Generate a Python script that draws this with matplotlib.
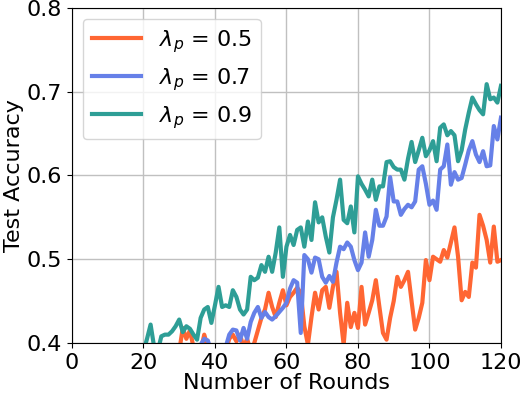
import matplotlib
matplotlib.use("Agg")
import matplotlib.pyplot as plt
import numpy as np

rounds = list(range(1, 121))

acc_05 = [0.30, 0.31, 0.30, 0.32, 0.31, 0.33, 0.32, 0.33, 0.34, 0.33,
          0.34, 0.35, 0.34, 0.35, 0.36, 0.35, 0.36, 0.37, 0.36, 0.37,
          0.36, 0.37, 0.38, 0.37, 0.38, 0.37, 0.38, 0.39, 0.38, 0.39,
          0.418, 0.405, 0.415, 0.395, 0.38, 0.39, 0.41, 0.395, 0.385, 0.38,
          0.375, 0.385, 0.39, 0.405, 0.41, 0.402, 0.41, 0.395, 0.405, 0.39,
          0.40, 0.415, 0.43, 0.44, 0.46, 0.443, 0.431, 0.448, 0.463, 0.445,
          0.455, 0.46, 0.466, 0.46, 0.42, 0.398, 0.431, 0.46, 0.44, 0.463,
          0.467, 0.442, 0.467, 0.485, 0.436, 0.398, 0.448, 0.419, 0.436, 0.418,
          0.467, 0.422, 0.436, 0.451, 0.475, 0.443, 0.412, 0.404, 0.43, 0.45,
          0.479, 0.467, 0.475, 0.485, 0.45, 0.416, 0.43, 0.448, 0.499, 0.475,
          0.503, 0.50, 0.497, 0.511, 0.502, 0.52, 0.538, 0.503, 0.451, 0.461,
          0.455, 0.496, 0.49, 0.553, 0.54, 0.523, 0.496, 0.539, 0.497, 0.499]

acc_07 = [0.28, 0.29, 0.29, 0.30, 0.30, 0.31, 0.30, 0.31, 0.32, 0.31,
          0.32, 0.33, 0.32, 0.33, 0.34, 0.33, 0.34, 0.35, 0.34, 0.35,
          0.36, 0.35, 0.36, 0.37, 0.36, 0.37, 0.36, 0.37, 0.38, 0.37,
          0.38, 0.37, 0.38, 0.385, 0.39, 0.398, 0.405, 0.403, 0.39, 0.385,
          0.38, 0.39, 0.395, 0.41, 0.416, 0.415, 0.403, 0.418, 0.405, 0.425,
          0.436, 0.443, 0.43, 0.437, 0.431, 0.428, 0.432, 0.437, 0.442, 0.448,
          0.465, 0.475, 0.472, 0.412, 0.505, 0.50, 0.484, 0.502, 0.50, 0.479,
          0.472, 0.48, 0.473, 0.496, 0.515, 0.512, 0.52, 0.515, 0.499, 0.487,
          0.496, 0.532, 0.503, 0.523, 0.559, 0.54, 0.54, 0.551, 0.598, 0.569,
          0.569, 0.553, 0.56, 0.565, 0.562, 0.569, 0.607, 0.611, 0.59, 0.565,
          0.57, 0.559, 0.607, 0.611, 0.637, 0.589, 0.604, 0.595, 0.597, 0.613,
          0.63, 0.641, 0.625, 0.616, 0.629, 0.611, 0.612, 0.659, 0.643, 0.669]

acc_09 = [0.30, 0.31, 0.30, 0.32, 0.33, 0.32, 0.34, 0.33, 0.35, 0.34,
          0.36, 0.35, 0.36, 0.37, 0.36, 0.38, 0.37, 0.39, 0.38, 0.39,
          0.405, 0.422, 0.395, 0.39, 0.408, 0.41, 0.41, 0.414, 0.42, 0.428,
          0.413, 0.42, 0.417, 0.41, 0.404, 0.43, 0.44, 0.443, 0.424, 0.445,
          0.467, 0.443, 0.445, 0.443, 0.463, 0.455, 0.44, 0.434, 0.44, 0.479,
          0.475, 0.478, 0.493, 0.485, 0.503, 0.485, 0.508, 0.538, 0.479, 0.515,
          0.529, 0.517, 0.535, 0.538, 0.515, 0.545, 0.523, 0.568, 0.544, 0.55,
          0.527, 0.508, 0.55, 0.571, 0.595, 0.547, 0.543, 0.563, 0.532, 0.599,
          0.59, 0.583, 0.575, 0.595, 0.571, 0.587, 0.587, 0.616, 0.617, 0.61,
          0.607, 0.607, 0.595, 0.62, 0.64, 0.616, 0.63, 0.645, 0.623, 0.63,
          0.641, 0.617, 0.657, 0.661, 0.648, 0.653, 0.648, 0.617, 0.63, 0.655,
          0.675, 0.693, 0.685, 0.678, 0.673, 0.709, 0.691, 0.693, 0.687, 0.707]

labels = [r"$\lambda_p$ = 0.5", r"$\lambda_p$ = 0.7", r"$\lambda_p$ = 0.9"]
colors = ["#FF6633", "#6680E8", "#2E9E96"]

fig = plt.figure(figsize=(5.29, 3.97), dpi=100)
ax = fig.add_axes([0.136, 0.136, 0.811, 0.844])

for series, lab, col in zip([acc_05, acc_07, acc_09], labels, colors):
    ax.plot(rounds, series, color=col, linewidth=3.0, label=lab)

ax.set_xlim(0, 120)
ax.set_ylim(0.4, 0.8)
ax.set_xticks([0, 20, 40, 60, 80, 100, 120])
ax.set_yticks([0.4, 0.5, 0.6, 0.7, 0.8])
ax.tick_params(labelsize=16)
ax.grid(True, color="#c0c0c0", linewidth=1.0)
ax.set_xlabel("Number of Rounds", fontsize=16, labelpad=0)
ax.set_ylabel("Test Accuracy", fontsize=16, labelpad=2)
ax.legend(loc="upper left", fontsize=16, handlelength=2.2)

fig.savefig("out.png", dpi=100)
